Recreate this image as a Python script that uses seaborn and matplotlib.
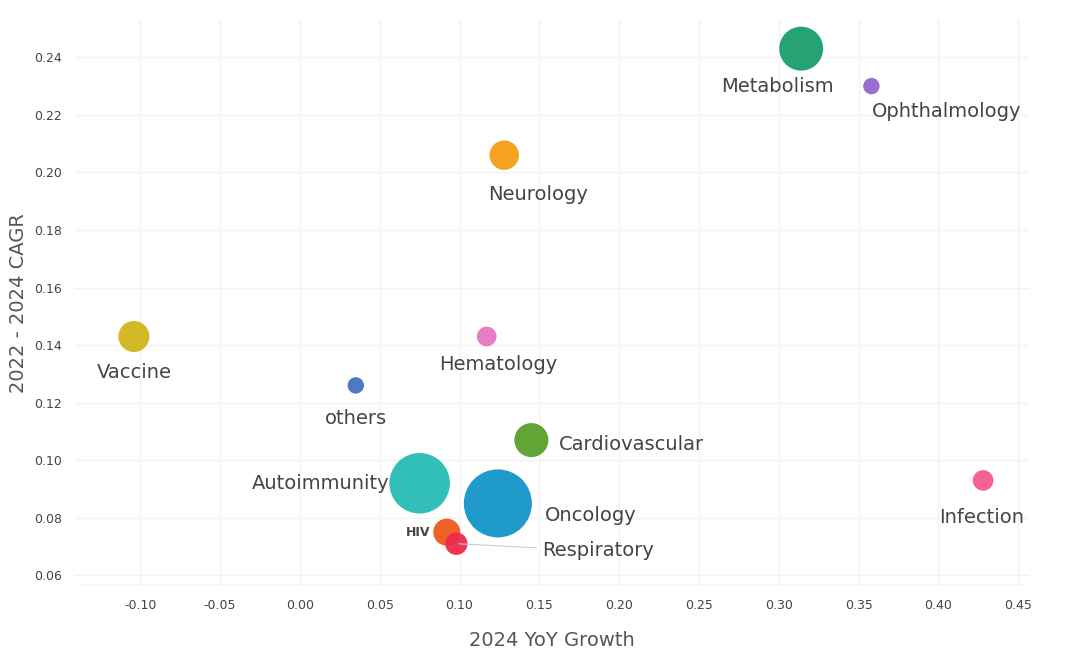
import matplotlib
matplotlib.use("Agg")
import matplotlib.pyplot as plt
import seaborn as sns
import pandas as pd

names = ["Metabolism","Ophthalmology","Neurology","Vaccine","Hematology","others",
         "Cardiovascular","Autoimmunity","Oncology","Infection","HIV","Respiratory"]
yoy = [0.314,0.358,0.128,-0.104,0.117,0.035,0.145,0.075,0.124,0.428,0.092,0.098]
cagr = [0.243,0.230,0.206,0.143,0.143,0.126,0.107,0.092,0.085,0.093,0.075,0.071]
sizes = [1000,140,450,500,200,140,600,1900,2400,220,380,260]
colors = ["#1a9e6a","#9467cf","#f59d16","#d1b51c","#e377c2","#4472c4",
          "#5aa02c","#27bcb5","#1395c8","#f45b8a","#ee5a1e","#ee2b4a"]
lab = [(-17,-27,"center",14),(0,-18,"left",14),(24,-28,"center",14),(0,-26,"center",14),
       (8,-20,"center",14),(0,-24,"center",14),(20,-3,"left",14),(-22,0,"right",14),
       (34,-9,"left",14),(-32,-27,"left",14),(-12,0,"right",9),(0,0,"left",14)]

df = pd.DataFrame({"name":names,"x":yoy,"y":cagr,"s":sizes})
sns.set_theme(style="whitegrid")
fig, ax = plt.subplots(figsize=(10.69,6.63), dpi=100)
fig.subplots_adjust(left=0.07, right=0.963, top=0.97, bottom=0.117)
sns.scatterplot(data=df, x="x", y="y", hue="name", palette=colors, size="s",
                sizes=(min(sizes),max(sizes)), size_norm=(min(sizes),max(sizes)),
                legend=False, ax=ax, linewidth=0, alpha=0.95)
for i,n in enumerate(names):
    dx,dy,ha,fs = lab[i]
    if n=="Respiratory":
        ax.annotate(n,(yoy[i],cagr[i]),xytext=(0.152,0.0685),textcoords="data",
                    fontsize=fs,color="#444",ha="left",va="center",
                    arrowprops=dict(arrowstyle="-",color="#ccc",lw=0.8))
        continue
    ax.annotate(n,(yoy[i],cagr[i]),xytext=(dx,dy),textcoords="offset points",
                ha=ha,va="center",fontsize=fs,color="#444",
                fontweight="bold" if n=="HIV" else "normal")
ax.set_xlim(-0.141,0.457)
ax.set_ylim(0.0565,0.253)
ax.set_xticks([-0.10,-0.05,0,0.05,0.10,0.15,0.20,0.25,0.30,0.35,0.40,0.45])
ax.set_xticklabels(["-0.10","-0.05","0.00","0.05","0.10","0.15","0.20","0.25","0.30","0.35","0.40","0.45"])
ax.set_yticks([0.06,0.08,0.10,0.12,0.14,0.16,0.18,0.20,0.22,0.24])
ax.set_yticklabels(["0.06","0.08","0.10","0.12","0.14","0.16","0.18","0.20","0.22","0.24"])
ax.tick_params(labelsize=9, colors="#444")
ax.set_xlabel("2024 YoY Growth", fontsize=14, color="#555", labelpad=14)
ax.set_ylabel("2022 - 2024 CAGR", fontsize=14, color="#555")
ax.grid(color="#f2f2f2")
for s in ax.spines.values(): s.set_visible(False)
ax.axhline(0.0565, color="#ddd", lw=1)
fig.savefig("out.png")
